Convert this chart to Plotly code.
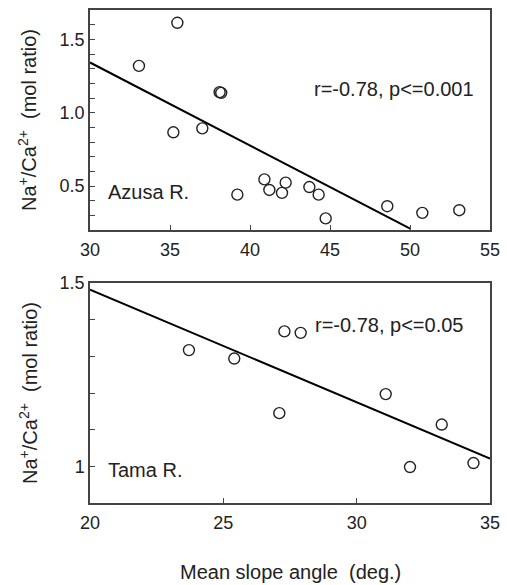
import plotly.graph_objects as go

# Azusa R. (top panel)
azusa_slope = [35.46, 33.06, 38.1, 38.2, 35.21, 37.02, 39.21, 40.90, 41.21, 42.0, 42.23, 43.71, 44.29, 44.73, 48.58, 50.77, 53.08]
azusa_ratio = [1.613, 1.319, 1.140, 1.135, 0.866, 0.893, 0.441, 0.545, 0.473, 0.453, 0.523, 0.493, 0.441, 0.279, 0.362, 0.317, 0.335]
azusa_fit_x = [30.0, 50.04]
azusa_fit_y = [1.342, 0.207]

# Tama R. (bottom panel)
tama_slope = [23.71, 25.41, 27.29, 27.90, 27.10, 31.09, 32.0, 33.19, 34.38]
tama_ratio = [1.317, 1.294, 1.368, 1.364, 1.145, 1.197, 0.998, 1.114, 1.009]
tama_fit_x = [20.0, 35.0]
tama_fit_y = [1.482, 1.021]

top_xticks = [30, 35, 40, 45, 50, 55]
top_yticks = [0.5, 1.0, 1.5]
top_yticktext = ["0.5", "1.0", "1.5"]
bot_xticks = [20, 25, 30, 35]
bot_yticks = [1.0, 1.5]
bot_yticktext = ["1", "1.5"]

FONT = "Liberation Sans, Arial, sans-serif"
INK = "#222222"
FRAME = "#444444"

fig = go.Figure()

marker = dict(symbol="circle-open", size=11, color=INK, line=dict(width=1.4, color=INK))

fig.add_trace(go.Scatter(x=azusa_slope, y=azusa_ratio, mode="markers", marker=marker,
                         xaxis="x", yaxis="y", showlegend=False))
fig.add_trace(go.Scatter(x=azusa_fit_x, y=azusa_fit_y, mode="lines", line=dict(color="black", width=2),
                         xaxis="x", yaxis="y", showlegend=False))
fig.add_trace(go.Scatter(x=tama_slope, y=tama_ratio, mode="markers", marker=marker,
                         xaxis="x2", yaxis="y2", showlegend=False))
fig.add_trace(go.Scatter(x=tama_fit_x, y=tama_fit_y, mode="lines", line=dict(color="black", width=2),
                         xaxis="x2", yaxis="y2", showlegend=False))

axis_common = dict(showline=True, mirror=True, linecolor=FRAME, linewidth=1.5, showgrid=False,
                   zeroline=False, ticks="inside", ticklen=5, tickwidth=1.2, tickcolor=FRAME,
                   automargin=False, tickfont=dict(family=FONT, size=18, color=INK))
minor_y = dict(dtick=0.1, tick0=0, ticks="inside", ticklen=5, tickcolor=FRAME, tickwidth=1.2)

W, H = 507, 585
T, B = 10, 82
PH = H - T - B
xd = [90 / W, 490 / W]
fig.update_layout(
    width=W, height=H,
    margin=dict(l=0, r=0, t=T, b=B, pad=0),
    template="none",
    plot_bgcolor="white", paper_bgcolor="white",
    font=dict(family=FONT, size=20, color=INK),
    xaxis=dict(axis_common, domain=xd, range=[30, 55], tickvals=top_xticks, anchor="y",
               ticklabelstandoff=3),
    yaxis=dict(axis_common, domain=[1 - 220 / PH, 1], range=[0.2, 1.7], tickvals=top_yticks,
               ticktext=top_yticktext, anchor="x", minor=minor_y),
    xaxis2=dict(axis_common, domain=xd, range=[20, 35], tickvals=bot_xticks, anchor="y2",
                ticklabelstandoff=3),
    yaxis2=dict(axis_common, domain=[0, 220 / PH], range=[0.9, 1.5], tickvals=bot_yticks,
                ticktext=bot_yticktext, anchor="x2", minor=minor_y),
)

ytitle = "Na<sup>+</sup>/Ca<sup>2+</sup>\u00a0\u00a0(mol ratio)"
annos = [
    dict(text=ytitle, x=28 / W, y=1 - 110 / PH, xref="paper", yref="paper", textangle=-90,
         showarrow=False, font=dict(size=20), xanchor="center", yanchor="middle"),
    dict(text=ytitle, x=28 / W, y=110 / PH, xref="paper", yref="paper", textangle=-90,
         showarrow=False, font=dict(size=20), xanchor="center", yanchor="middle"),
    dict(text="Mean slope angle\u00a0\u00a0(deg.)", x=290 / W, y=-(572 - (H - B)) / PH,
         xref="paper", yref="paper",
         showarrow=False, font=dict(size=20), xanchor="center", yanchor="middle"),
    dict(text="r=-0.78, p<=0.001", x=49.0, y=1.159, xref="x", yref="y", showarrow=False,
         font=dict(size=20), xanchor="center", yanchor="middle"),
    dict(text="Azusa R.", x=31.0, y=0.459, xref="x", yref="y", showarrow=False,
         font=dict(size=20), xanchor="left", yanchor="middle"),
    dict(text="r=-0.78, p<=0.05", x=31.2, y=1.386, xref="x2", yref="y2", showarrow=False,
         font=dict(size=20), xanchor="center", yanchor="middle"),
    dict(text="Tama R.", x=20.6, y=0.99, xref="x2", yref="y2", showarrow=False,
         font=dict(size=20), xanchor="left", yanchor="middle"),
]
fig.update_layout(annotations=annos)

fig.write_html("out.html", config={"displayModeBar": False},
               post_script="document.body.style.margin='0';")
